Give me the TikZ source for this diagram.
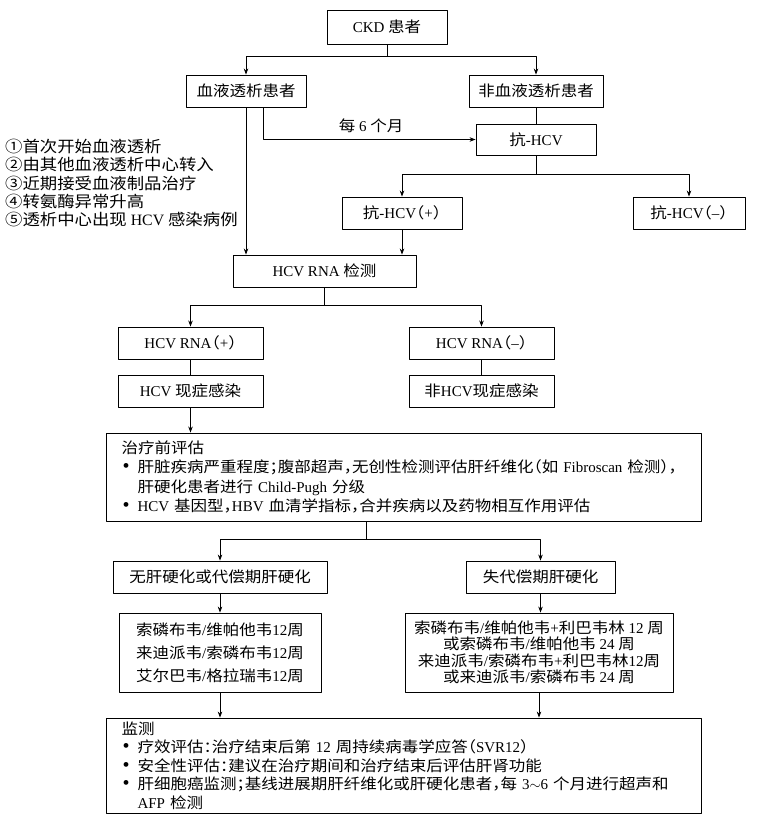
\documentclass[tikz,border=0pt]{standalone}
\usepackage{fontspec}
\setmainfont{Liberation Serif}
\newfontfamily\zhfont[FakeStretch=1.1, RawFeature=+halt]{Noto Sans CJK SC}
\usetikzlibrary{arrows.meta}

% CJK runs switch to \zhfont by themselves
\newXeTeXintercharclass\zhclass
\newcount\zhcode
\newcommand\zhrange[2]{%
  \zhcode=#1
  \loop
    \XeTeXcharclass\zhcode=\zhclass
  \ifnum\zhcode<#2 \advance\zhcode by 1 \repeat}
\zhrange{"4E00}{"9FFF}
\zhrange{"3000}{"303F}
\zhrange{"FF00}{"FFEF}
\zhrange{"2460}{"2473}
\XeTeXinterchartoks 0 \zhclass = {\zhfont}
\XeTeXinterchartoks 4095 \zhclass = {\zhfont}
\XeTeXinterchartoks \zhclass 0 = {\rmfamily}
\XeTeXinterchartoks \zhclass 4095 = {\rmfamily}
\XeTeXinterchartokenstate=1

\newcommand\bul{\makebox[16pt][l]{\hspace{1pt}\smash{\fontsize{20}{20}\selectfont\textbullet}}}

\begin{document}
\begin{tikzpicture}[x=1pt, y=-1pt, line join=round,
    box/.style={draw, line width=0.9pt, minimum height=32, inner sep=0pt,
                align=center, font=\fontsize{15}{19}\selectfont},
    link/.style={line width=0.7pt},
    arr/.style={link, -{Stealth[length=6pt, width=4.5pt]}}]
    \useasboundingbox (0,0) rectangle (775,824);
    % screening
    \node[box, minimum width=120, minimum height=34] (ckd) at (387,27) {CKD 患者};
    \node[box, minimum width=120] (hd) at (246,91) {血液透析患者};
    \node[box, minimum width=134] (nonhd) at (536,91) {非血液透析患者};
    \node[box, minimum width=120, minimum height=31] (anti) at (536,139.5) {抗-HCV};
    \node[box, minimum width=120] (antipos) at (402,213) {抗-HCV（+）};
    \node[box, minimum width=112] (antineg) at (689,213) {抗-HCV（–）};
    \node[anchor=north west, align=left, inner sep=0pt,
          font=\fontsize{15.8}{18.3}\selectfont] (note) at (5,139)
        {①首次开始血液透析\\②由其他血液透析中心转入\\③近期接受血液制品治疗\\④转氨酶异常升高\\⑤透析中心出现 HCV 感染病例};
    \node[font=\fontsize{15}{19}\selectfont] (every6) at (371,126) {每 6 个月};
    % confirmation
    \node[box, minimum width=183] (rna) at (324.5,271) {HCV RNA 检测};
    \node[box, minimum width=145] (rnapos) at (190.5,343) {HCV RNA（+）};
    \node[box, minimum width=145] (rnaneg) at (481.5,343) {HCV RNA（–）};
    \node[box, minimum width=145] (cur) at (190.5,391) {HCV 现症感染};
    \node[box, minimum width=145] (noncur) at (481.5,391) {非HCV现症感染};
    % treatment
    \node[box, minimum width=595, minimum height=88, text width=564, align=left,
          font=\fontsize{15}{19.5}\selectfont] (pre) at (403.5,477)
        {治疗前评估\\
         \bul 肝脏疾病严重程度；腹部超声，无创性检测评估肝纤维化（如 Fibroscan 检测），\\
         \hspace*{16pt}肝硬化患者进行 Child-Pugh 分级\\
         \bul HCV 基因型，HBV 血清学指标，合并疾病以及药物相互作用评估};
    \node[box, minimum width=214] (nocir) at (220,577) {无肝硬化或代偿期肝硬化};
    \node[box, minimum width=149] (decomp) at (540.5,577) {失代偿期肝硬化};
    \node[box, minimum width=202, minimum height=79,
          font=\fontsize{15}{23}\selectfont] (drugl) at (220,652.5)
        {索磷布韦/维帕他韦12周\\来迪派韦/索磷布韦12周\\艾尔巴韦/格拉瑞韦12周};
    \node[box, minimum width=268, minimum height=79,
          font=\fontsize{15}{16.5}\selectfont] (drugr) at (539,652.5)
        {索磷布韦/维帕他韦+利巴韦林 12 周\\或索磷布韦/维帕他韦 24 周\\来迪派韦/索磷布韦+利巴韦林12周\\或来迪派韦/索磷布韦 24 周};
    \node[box, minimum width=595, minimum height=95, text width=564, align=left,
          font=\fontsize{15}{18.5}\selectfont] (mon) at (403.5,765.5)
        {监测\\
         \bul 疗效评估：治疗结束后第 12 周持续病毒学应答（SVR12）\\
         \bul 安全性评估：建议在治疗期间和治疗结束后评估肝肾功能\\
         \bul 肝细胞癌监测；基线进展期肝纤维化或肝硬化患者，每 3$\sim$6 个月进行超声和\\
         \hspace*{16pt}AFP 检测};
    % connectors
    \draw[link] (ckd.south) -- ++(0,12) coordinate (split1);
    \draw[arr] (split1) -| (hd.north);
    \draw[arr] (split1) -| (nonhd.north);
    \draw[link] (nonhd.south) -- (anti.north);
    \draw[arr] (hd.south) -- (hd.south |- rna.north);
    \draw[arr] ([xshift=17pt]hd.south) |- (anti.west);
    \draw[link] (anti.south) -- ++(0,19) coordinate (split2);
    \draw[arr] (split2) -| (antipos.north);
    \draw[arr] (split2) -| (antineg.north);
    \draw[arr] (antipos.south) -- (antipos.south |- rna.north);
    \draw[link] (rna.south) -- ++(0,18) coordinate (split3);
    \draw[arr] (split3) -| (rnapos.north);
    \draw[arr] (split3) -| (rnaneg.north);
    \draw[link] (rnapos.south) -- (cur.north);
    \draw[link] (rnaneg.south) -- (noncur.north);
    \draw[arr] (cur.south) -- (cur.south |- pre.north);
    \draw[link] ([xshift=-37.5pt]pre.south) -- ++(0,18) coordinate (split4);
    \draw[arr] (split4) -| (nocir.north);
    \draw[arr] (split4) -| (decomp.north);
    \draw[arr] (nocir.south) -- (drugl.north);
    \draw[arr] (decomp.south) -- (decomp.south |- drugr.north);
    \draw[arr] (drugl.south) -- (drugl.south |- mon.north);
    \draw[arr] (drugr.south) -- (drugr.south |- mon.north);
\end{tikzpicture}
\end{document}
